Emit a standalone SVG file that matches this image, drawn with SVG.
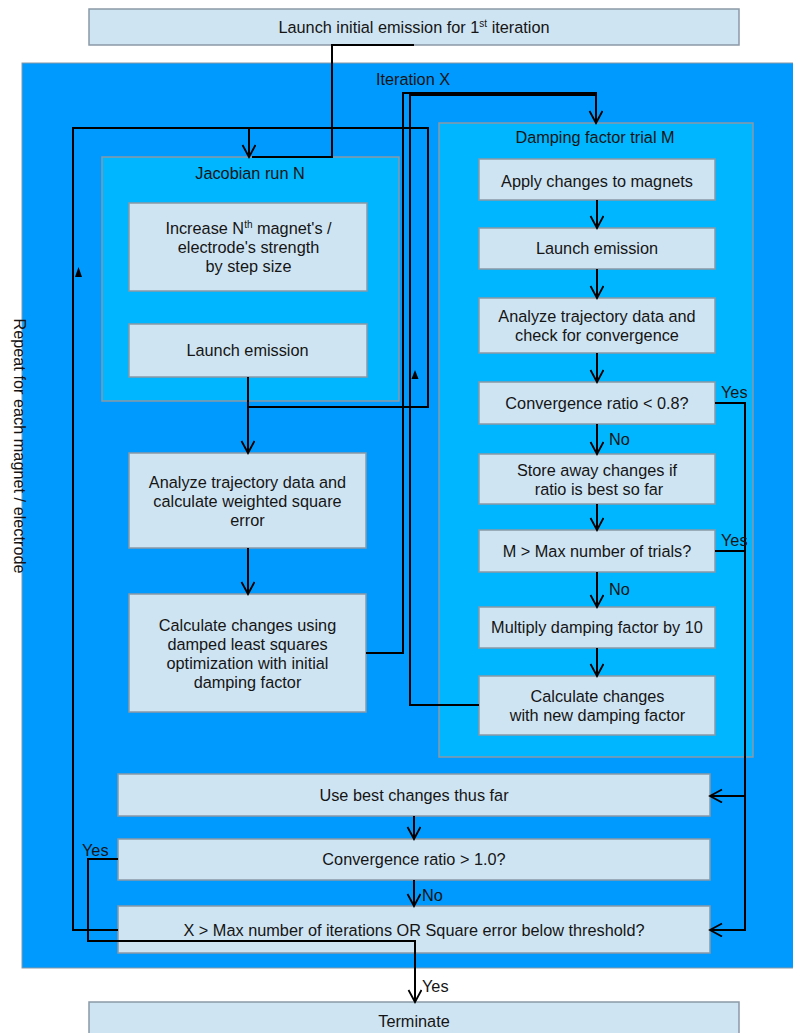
<svg xmlns="http://www.w3.org/2000/svg" width="793" height="1033" viewBox="0 0 793 1033">
<defs>
<style>
.box{fill:#cfe4f2;stroke:#8a99a6;stroke-width:1.5}
.outer{fill:#0099fe;stroke:#8a99a6;stroke-width:1}
.inner{fill:#00b6ff;stroke:#8a99a6;stroke-width:1.5}
text{font-family:"Liberation Sans",Arial,sans-serif;font-size:16.3px;fill:#151515}
.c{text-anchor:middle}
.ln{fill:none;stroke:#000;stroke-width:2}
.ar{marker-end:url(#arr)}
</style>
<marker id="arr" markerUnits="userSpaceOnUse" markerWidth="16" markerHeight="16" refX="13" refY="7" orient="auto">
<path d="M1,0.5 L13,7 L1,13.5" fill="none" stroke="#000" stroke-width="1.8"/>
</marker>
</defs>
<rect width="793" height="1033" fill="#fff"/>

<g id="iteration">
<rect class="outer" x="22" y="63" width="790" height="905"/>
<text class="c" x="413" y="85">Iteration X</text>
<text transform="translate(13.5,446) rotate(90)" class="c" x="0" y="0">Repeat for each magnet / electrode</text>
</g>

<g id="start">
<rect class="box" x="89" y="9" width="650" height="36"/>
<text class="c" x="414" y="33">Launch initial emission for 1<tspan font-size="10" dy="-6">st</tspan><tspan dy="6"> iteration</tspan></text>
</g>

<g id="jacobian">
<rect class="inner" x="102" y="157" width="297" height="244"/>
<text class="c" x="250" y="179">Jacobian run N</text>
</g>

<g id="increase">
<rect class="box" x="129" y="203" width="238" height="88"/>
<text class="c" x="248.5" y="234">Increase N<tspan font-size="10" dy="-6">th</tspan><tspan dy="6"> magnet's /</tspan></text>
<text class="c" x="248.5" y="253">electrode's strength</text>
<text class="c" x="248.5" y="272">by step size</text>
</g>

<g id="launchJ">
<rect class="box" x="129" y="324" width="238" height="53"/>
<text class="c" x="247.5" y="356">Launch emission</text>
</g>

<g id="analyzeL">
<rect class="box" x="129" y="453" width="237" height="95"/>
<text class="c" x="247.5" y="488">Analyze trajectory data and</text>
<text class="c" x="247.5" y="507">calculate weighted square</text>
<text class="c" x="247.5" y="526">error</text>
</g>

<g id="calcL">
<rect class="box" x="129" y="594" width="237" height="118"/>
<text class="c" x="247.5" y="631">Calculate changes using</text>
<text class="c" x="247.5" y="650">damped least squares</text>
<text class="c" x="247.5" y="669">optimization with initial</text>
<text class="c" x="247.5" y="688">damping factor</text>
</g>

<g id="damping">
<rect class="inner" x="439" y="123" width="314" height="634"/>
<text class="c" x="595" y="143">Damping factor trial M</text>
</g>

<g id="apply">
<rect class="box" x="479" y="159" width="236" height="41"/>
<text class="c" x="597" y="186.5">Apply changes to magnets</text>
</g>

<g id="launchD">
<rect class="box" x="479" y="228" width="236" height="41"/>
<text class="c" x="597" y="254">Launch emission</text>
</g>

<g id="analyzeR">
<rect class="box" x="479" y="298" width="236" height="55"/>
<text class="c" x="597" y="322">Analyze trajectory data and</text>
<text class="c" x="597" y="341">check for convergence</text>
</g>

<g id="conv08">
<rect class="box" x="479" y="382" width="236" height="42"/>
<text class="c" x="597" y="409">Convergence ratio &lt; 0.8?</text>
</g>

<g id="store">
<rect class="box" x="479" y="454" width="236" height="50"/>
<text class="c" x="597" y="476">Store away changes if</text>
<text class="c" x="599" y="495">ratio is best so far</text>
</g>

<g id="maxtrials">
<rect class="box" x="479" y="530" width="236" height="42"/>
<text class="c" x="597" y="557">M &gt; Max number of trials?</text>
</g>

<g id="multiply">
<rect class="box" x="479" y="607" width="236" height="41"/>
<text class="c" x="597" y="633">Multiply damping factor by 10</text>
</g>

<g id="calcnew">
<rect class="box" x="479" y="676" width="236" height="59"/>
<text class="c" x="597.5" y="702">Calculate changes</text>
<text class="c" x="597.5" y="721">with new damping factor</text>
</g>

<g id="usebest">
<rect class="box" x="118" y="774" width="592" height="42"/>
<text class="c" x="414" y="801">Use best changes thus far</text>
</g>

<g id="conv10">
<rect class="box" x="118" y="839" width="592" height="41"/>
<text class="c" x="414" y="865">Convergence ratio &gt; 1.0?</text>
</g>

<g id="maxiter">
<rect class="box" x="118" y="906" width="592" height="47"/>
<text class="c" x="414" y="936">X &gt; Max number of iterations OR Square error below threshold?</text>
</g>

<g id="terminate">
<rect class="box" x="89" y="1002" width="650" height="45"/>
<text class="c" x="414" y="1027">Terminate</text>
</g>

<g id="connectors">
<path class="ln" d="M414,45 H332 V157 H252"/>
<path class="ln ar" d="M248,377 V407 H428 V128 H249 V157"/>
<path class="ln" d="M118,930 H73 V128 H249"/>
<path class="ln ar" d="M248,407 V453"/>
<path class="ln ar" d="M248,548 V594"/>
<path class="ln ar" d="M366,653 H403 V93 H596 V123"/>
<path class="ln" d="M479,705 H410 V95 H596"/>
<path class="ln ar" d="M597,200 V228"/>
<path class="ln ar" d="M597,269 V298"/>
<path class="ln ar" d="M597,353 V382"/>
<path class="ln ar" d="M597,424 V454"/>
<path class="ln ar" d="M597,504 V530"/>
<path class="ln ar" d="M597,572 V607"/>
<path class="ln ar" d="M597,648 V676"/>
<path class="ln ar" d="M715,403 H745 V930 H710"/>
<path class="ln" d="M715,551 H745"/>
<path class="ln ar" d="M745,796 H710"/>
<path class="ln ar" d="M414,816 V839"/>
<path class="ln ar" d="M414,880 V906"/>
<path class="ln ar" d="M118,859 H88 V941 H415 V1002"/>
<polygon points="75,277 82,277 78.5,267" fill="#000"/>
<polygon points="411.5,379 418.5,379 415,370" fill="#000"/>
<text x="721" y="398">Yes</text>
<text x="721" y="546">Yes</text>
<text x="609" y="445">No</text>
<text x="609" y="595">No</text>
<text x="422" y="901">No</text>
<text x="422" y="992">Yes</text>
<text x="82" y="856">Yes</text>
</g>
</svg>
